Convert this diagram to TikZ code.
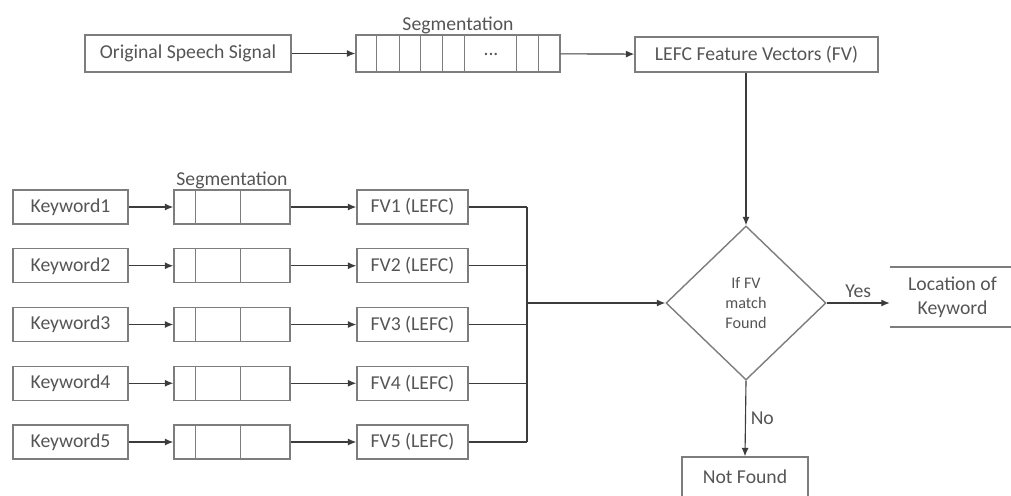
\documentclass[tikz,border=0pt]{standalone}
\usepackage{fontspec}
\setmainfont{Carlito}
\usetikzlibrary{arrows.meta,positioning,shapes.geometric}
\definecolor{boxln}{RGB}{125,125,125}
\definecolor{txt}{RGB}{85,85,85}
\definecolor{wire}{RGB}{60,60,60}

\begin{document}
\begin{tikzpicture}[x=0.025cm, y=-0.025cm,
  every node/.style={font=\fontsize{14}{17}\selectfont, text=txt},
  box/.style={draw=boxln, line width=1pt, inner sep=0pt},
  kwbox/.style={box, minimum width=2.875cm, minimum height=0.85cm},
  segbox/.style={box, minimum width=2.9cm, minimum height=0.85cm},
  fvbox/.style={box, minimum width=2.775cm, minimum height=0.85cm},
  cell/.style={draw=boxln, line width=0.8pt},
  wire/.style={draw=wire, line width=0.8pt},
  arr/.style={wire, -{Latex[length=6pt,width=5pt]}}]
\useasboundingbox (0,0) rectangle (1011,495);
% ---- top row: speech signal
\node[box, minimum width=5.15cm, minimum height=0.925cm] (orig) at (188,53.5)
  {Original Speech Signal};
\node[box, minimum width=5.1cm, minimum height=0.925cm] (segtop) at (458,53.5) {};
\foreach \dx in {0.525,1.1,1.625,2.175,2.725,4.025,4.575}
  \draw[cell] ([xshift=\dx cm]segtop.north west) -- ([xshift=\dx cm]segtop.south west);
\node (dots) at (491,54) {...};
\node[above=-3pt of segtop] (segtoplbl) {Segmentation};
\node[box, minimum width=6.075cm, minimum height=0.875cm] (lefc) at (756.5,54.5)
  {LEFC Feature Vectors (FV)};
\draw[arr] (orig) -- (segtop);
\draw[arr] (segtop) -- (lefc);
% ---- decision and results
\node[draw=boxln, line width=1pt, diamond, minimum width=4cm, minimum height=3.85cm,
  inner sep=0pt, align=center, font=\fontsize{11.5}{14.5}\selectfont] (dec) at (746,303)
  {If FV\\match\\Found};
\node[minimum width=3.125cm, minimum height=1.5cm, align=center] (loc) at (952.5,297)
  {Location of\\Keyword};
\draw[draw=boxln, line width=1.2pt] (loc.north west) -- (loc.north east)
  (loc.south west) -- (loc.south east);
\node[box, minimum width=3.15cm, minimum height=1cm] (nf) at (745,477) {Not Found};
\draw[arr] (lefc.south -| dec.north) -- (dec.north);
\draw[arr] (dec.east) -- node[above] {Yes} (dec.east -| loc.west);
\draw[arr] (dec.south) -- node[right] {No} (nf.north);
% ---- keywords
\coordinate (bus) at (527,303);
\foreach \i in {1,...,5} {
  \pgfmathsetmacro\ry{207+58.75*(\i-1)}
  \node[kwbox] (kw\i) at (70.5,\ry) {Keyword\i};
  \node[segbox] (seg\i) at (232,\ry) {};
  \draw[cell] ([xshift=0.55cm]seg\i.north west) -- ([xshift=0.55cm]seg\i.south west);
  \draw[cell] ([xshift=1.675cm]seg\i.north west) -- ([xshift=1.675cm]seg\i.south west);
  \node[fvbox] (fv\i) at (412.5,\ry) {FV\i\ (LEFC)};
  \draw[arr] (kw\i) -- (seg\i);
  \draw[arr] (seg\i) -- (fv\i);
  \draw[wire] (fv\i.east) -- (fv\i.east -| bus);
}
\node[above=-3pt of seg1] (seglbl) {Segmentation};
\draw[wire] (fv1.east -| bus) -- (fv5.east -| bus);
\draw[arr] (bus) -- (dec.west);
\end{tikzpicture}
\end{document}
